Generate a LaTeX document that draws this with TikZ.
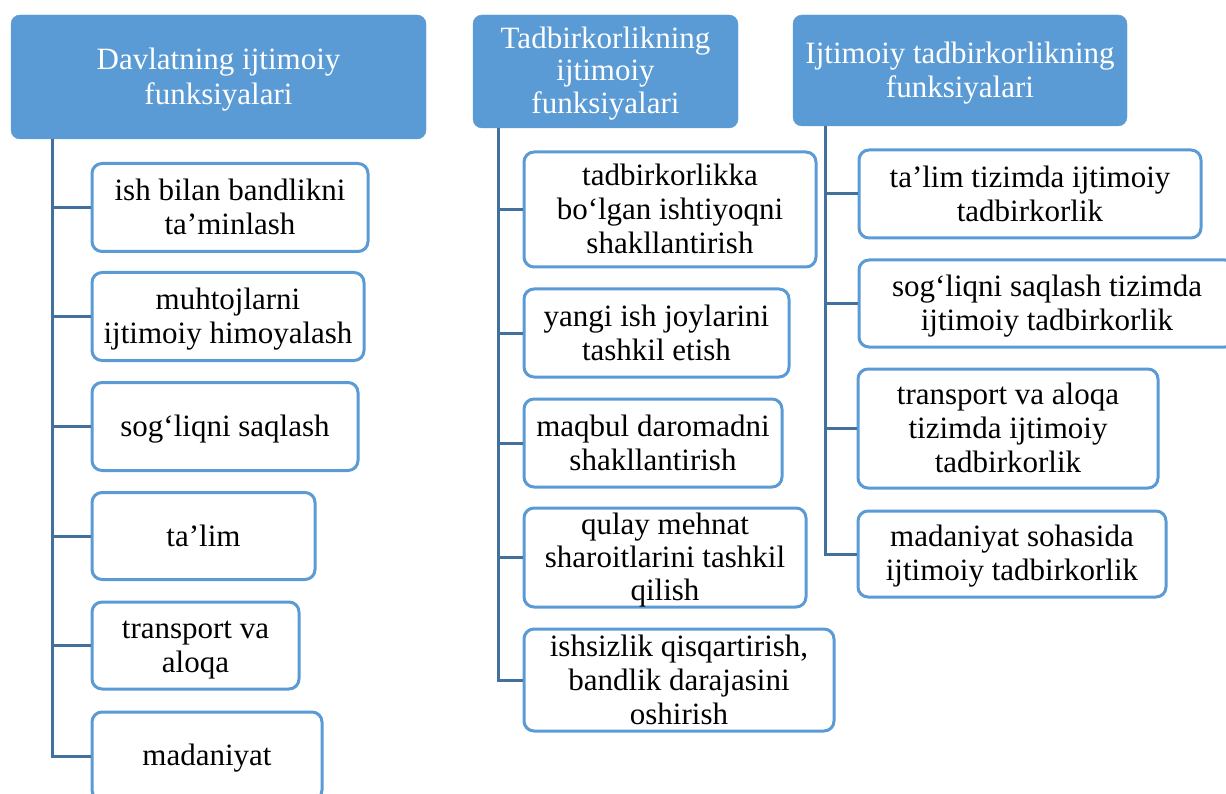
\documentclass[tikz,border=0pt]{standalone}
\usepackage{fontspec}
\setmainfont{Liberation Serif}
\usetikzlibrary{positioning}

\definecolor{headblue}{HTML}{5B9BD5}
\definecolor{linkblue}{HTML}{41719C}

% line box of the text, as a word processor sets it
\newcommand{\ls}{\rule[-5.1pt]{0pt}{31.1pt}}

\tikzset{
  boxtext/.style={align=center, inner xsep=2pt, inner ysep=0pt,
    font=\fontsize{31}{34}\selectfont},
  head/.style={boxtext, rectangle, rounded corners=9pt, fill=headblue,
    draw=headblue, text=white},
  item/.style={boxtext, rectangle, rounded corners=10pt, draw=headblue,
    fill=white, line width=3pt},
  link/.style={draw=linkblue, line width=3pt}
}

\begin{document}
\begin{tikzpicture}[x=1pt,y=-1pt]
  \useasboundingbox (0,0) rectangle (1226,794);
  \clip (0,0) rectangle (1226,794);

  % headers
  \node[head, minimum width=415pt, minimum height=124pt,
      font=\fontsize{31}{35}\selectfont] (h1) at (218.5,77)
    {\ls Davlatning ijtimoiy\\funksiyalari\ls};
  \node[head, minimum width=265pt, minimum height=113pt,
      font=\fontsize{31}{31.5}\selectfont] (h2) at (605.5,71.5)
    {\ls Tadbirkorlikning\\ijtimoiy\\funksiyalari\ls};
  \node[head, minimum width=334pt, minimum height=111pt] (h3) at (960,70.5)
    {\ls Ijtimoiy tadbirkorlikning\\funksiyalari\ls};

  \coordinate (t1) at (52,139);
  \coordinate (t2) at (498,128);
  \coordinate (t3) at (825,126);

  % first column
  \node[item, minimum width=276pt, minimum height=88pt] (c11) at (230,207.5)
    {\ls ish bilan bandlikni\\ta’minlash\ls};
  \node[item, minimum width=272pt, minimum height=88pt] (c12) at (228,316.5)
    {\ls muhtojlarni\\ijtimoiy himoyalash\ls};
  \node[item, minimum width=266pt, minimum height=88pt] (c13) at (225,426.5)
    {\ls sog‘liqni saqlash\ls};
  \node[item, minimum width=223pt, minimum height=87pt] (c14) at (203.5,536)
    {\ls ta’lim\ls};
  \node[item, minimum width=207pt, minimum height=87pt] (c15) at (195.5,645.5)
    {\ls transport va\\aloqa\ls};
  \node[item, minimum width=230pt, minimum height=88pt] (c16) at (207,756)
    {\ls madaniyat\ls};

  % second column
  \node[item, minimum width=292pt, minimum height=115pt] (c21) at (670,209.5)
    {\ls tadbirkorlikka\\bo‘lgan ishtiyoqni\\shakllantirish\ls};
  \node[item, minimum width=265pt, minimum height=88pt] (c22) at (656.5,333)
    {\ls yangi ish joylarini\\tashkil etish\ls};
  \node[item, minimum width=258pt, minimum height=88pt] (c23) at (653,443)
    {\ls maqbul daromadni\\shakllantirish\ls};
  \node[item, minimum width=282pt, minimum height=99pt,
      font=\fontsize{31}{33}\selectfont] (c24) at (665,557.5)
    {\ls qulay mehnat\\sharoitlarini tashkil\\qilish\ls};
  \node[item, minimum width=310pt, minimum height=102pt] (c25) at (679,680)
    {\ls ishsizlik qisqartirish,\\bandlik darajasini\\oshirish\ls};

  % third column
  \node[item, minimum width=342pt, minimum height=88pt] (c31) at (1030,194)
    {\ls ta’lim tizimda ijtimoiy\\tadbirkorlik\ls};
  \node[item, minimum width=376pt, minimum height=87pt] (c32) at (1047,303.5)
    {\ls sog‘liqni saqlash tizimda\\ijtimoiy tadbirkorlik\ls};
  \node[item, minimum width=300pt, minimum height=119pt] (c33) at (1008,428.5)
    {\ls transport va aloqa\\tizimda ijtimoiy\\tadbirkorlik\ls};
  \node[item, minimum width=308pt, minimum height=86pt] (c34) at (1012,554)
    {\ls madaniyat sohasida\\ijtimoiy tadbirkorlik\ls};

  % connectors
  \foreach \c in {c11,c12,c13,c14,c15,c16}
    \draw[link] (t1) |- (\c.west);
  \foreach \c in {c21,c22,c23,c24,c25}
    \draw[link] (t2) |- (\c.west);
  \foreach \c in {c31,c32,c33,c34}
    \draw[link] (t3) |- (\c.west);
\end{tikzpicture}
\end{document}
